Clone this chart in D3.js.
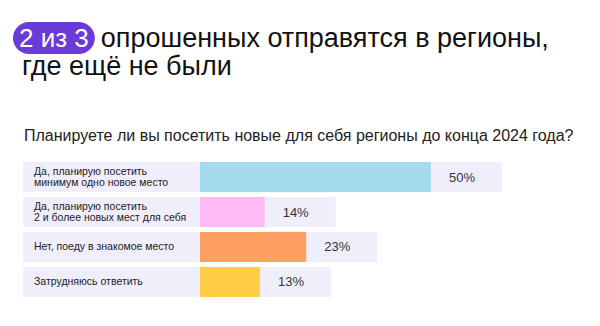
<!DOCTYPE html>
<html><head><meta charset="utf-8">
<script src="https://cdn.jsdelivr.net/npm/d3@7"></script>
<style>
html,body{margin:0;padding:0;background:#fff;}
svg{display:block;font-family:"Liberation Sans",Arial,sans-serif;}
</style></head>
<body><div id="chart"></div>
<script>
const categories = [
  ["Да, планирую посетить", "минимум одно новое место"],
  ["Да, планирую посетить", "2 и более новых мест для себя"],
  ["Нет, поеду в знакомое место"],
  ["Затрудняюсь ответить"]
];
const values = [50, 14, 23, 13];
const colors = ["#a4dcee", "#fdbaf4", "#ffa063", "#ffcd46"];
const badgeText = "2 из 3";
const titleLine1 = "опрошенных отправятся в регионы,";
const titleLine2 = "где ещё не были";
const subtitle = "Планируете ли вы посетить новые для себя регионы до конца 2024 года?";

const W = 600, H = 326;
const svg = d3.select("#chart").append("svg").attr("width", W).attr("height", H);

// Title badge
const badgeG = svg.append("g");
const badgeLabel = badgeG.append("text").attr("x", 19).attr("y", 47)
  .attr("font-size", 26).attr("fill", "#fff").text(badgeText);
const bb = badgeLabel.node().getBBox();
badgeG.insert("rect", "text").attr("x", 13).attr("y", 22)
  .attr("width", bb.width + 12).attr("height", 32).attr("rx", 16).attr("fill", "#6a3bd7");
svg.append("text").attr("x", 13 + bb.width + 12 + 6).attr("y", 47)
  .attr("font-size", 27).attr("fill", "#111").text(titleLine1);
svg.append("text").attr("x", 22).attr("y", 75)
  .attr("font-size", 27).attr("fill", "#111").text(titleLine2);

svg.append("text").attr("x", 24).attr("y", 141)
  .attr("font-size", 16).attr("fill", "#222").text(subtitle);

// Chart
const y = d3.scaleBand().domain(d3.range(values.length)).range([162, 297]).paddingInner(0.14).paddingOuter(0);
const x = d3.scaleLinear().domain([0, 50]).range([200, 431]);

const rows = svg.append("g").selectAll("g").data(values).join("g");
rows.append("rect").attr("x", 23).attr("y", (d, i) => y(i))
  .attr("width", d => x(d) + 71 - 23).attr("height", y.bandwidth()).attr("fill", "#f1eefc");
rows.append("rect").attr("x", x(0)).attr("y", (d, i) => y(i))
  .attr("width", d => x(d) - x(0)).attr("height", y.bandwidth()).attr("fill", (d, i) => colors[i]);
rows.append("text").attr("x", d => x(d) + 31).attr("y", (d, i) => y(i) + y.bandwidth() / 2 + 4.5)
  .attr("text-anchor", "middle").attr("font-size", 13).attr("fill", "#333").text(d => d + "%");
rows.each(function(d, i) {
  const lines = categories[i];
  const cy = y(i) + y.bandwidth() / 2;
  const t = d3.select(this).append("text").attr("x", 34).attr("font-size", 10.5).attr("fill", "#222");
  const startY = cy + 3.5 - (lines.length - 1) * 11 / 2;
  lines.forEach((l, k) => t.append("tspan").attr("x", 34).attr("y", startY + k * 11).text(l));
});
</script></body></html>
